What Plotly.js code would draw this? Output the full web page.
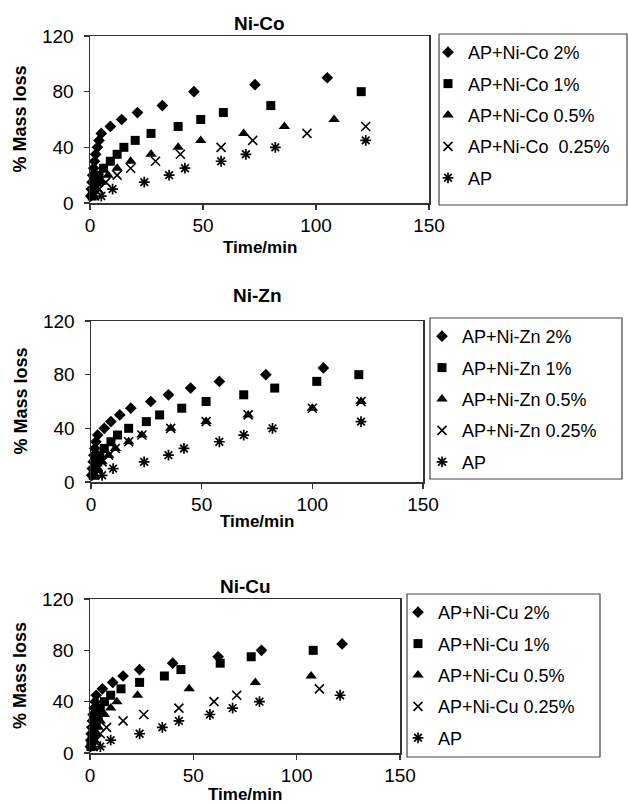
<!DOCTYPE html>
<html>
<head>
<meta charset="utf-8">
<script src="https://cdn.plot.ly/plotly-3.0.1.min.js"></script>
<style>html,body{margin:0;padding:0;background:#fff}#chart{width:628px;height:805px}</style>
</head>
<body>
<div id="chart"></div>
<script>
// ---- Data ----
const panelTitles = ["Ni-Co", "Ni-Zn", "Ni-Cu"];
const xTicks = [0, 50, 100, 150];
const yTicks = [0, 40, 80, 120];

// Ni-Co
const co2_x = [0.3, 0.6, 0.9, 1.2, 1.6, 2, 2.5, 3.3, 4, 5, 9, 14, 21, 32, 46, 73, 105];
const co2_y = [5, 10, 15, 20, 25, 30, 35, 40, 45, 50, 55, 60, 65, 70, 80, 85, 90];
const co1_x = [1, 2, 3, 4, 6, 9, 12, 15, 20, 27, 39, 49, 59, 80, 120];
const co1_y = [5, 10, 15, 20, 25, 30, 35, 40, 45, 50, 55, 60, 65, 70, 80];
const co05_x = [1.5, 3, 5, 8, 12, 18, 27, 39, 49, 68, 86, 108];
const co05_y = [5, 10, 15, 20, 25, 30, 35, 40, 45, 50, 55, 60];
const co025_x = [2, 4, 7, 12, 18, 29, 40, 58, 72, 96, 122];
const co025_y = [5, 10, 15, 20, 25, 30, 35, 40, 45, 50, 55];
const apCo_x = [5, 10, 24, 35, 42, 58, 69, 82, 122];
const apCo_y = [5, 10, 15, 20, 25, 30, 35, 40, 45];

// Ni-Zn
const zn2_x = [0.3, 0.6, 1, 1.3, 1.7, 2.2, 3, 6, 9, 13, 18, 27, 35, 45, 58, 79, 105];
const zn2_y = [5, 10, 15, 20, 25, 30, 35, 40, 45, 50, 55, 60, 65, 70, 75, 80, 85];
const zn1_x = [1, 2, 3, 4, 6, 9, 12, 17, 25, 31, 41, 52, 69, 83, 102, 121];
const zn1_y = [5, 10, 15, 20, 25, 30, 35, 40, 45, 50, 55, 60, 65, 70, 75, 80];
const zn05_x = [1.5, 3, 5, 8, 11, 17, 23, 36, 52, 71, 100, 122];
const zn05_y = [5, 10, 15, 20, 25, 30, 35, 40, 45, 50, 55, 60];
const zn025_x = [1.5, 3, 5, 8, 11, 17, 23, 36, 52, 71, 100, 122];
const zn025_y = [5, 10, 15, 20, 25, 30, 35, 40, 45, 50, 55, 60];
const apZn_x = [5, 10, 24, 35, 42, 58, 69, 82, 122];
const apZn_y = [5, 10, 15, 20, 25, 30, 35, 40, 45];

// Ni-Cu
const cu2_x = [0.2, 0.4, 0.6, 0.9, 1.2, 1.5, 2, 2.5, 3, 6, 11, 16, 24, 40, 62, 83, 122];
const cu2_y = [5, 10, 15, 20, 25, 30, 35, 40, 45, 50, 55, 60, 65, 70, 75, 80, 85];
const cu1_x = [0.5, 1, 1.5, 2, 3, 4, 5, 7, 10, 15, 24, 36, 44, 63, 78, 108];
const cu1_y = [5, 10, 15, 20, 25, 30, 35, 40, 45, 50, 55, 60, 65, 70, 75, 80];
const cu05_x = [1, 2, 3, 4, 5, 7, 10, 13, 23, 48, 80, 107];
const cu05_y = [5, 10, 15, 20, 25, 30, 35, 40, 45, 50, 55, 60];
const cu025_x = [1.5, 3, 5, 8, 16, 26, 43, 60, 71, 111];
const cu025_y = [5, 10, 15, 20, 25, 30, 35, 40, 45, 50];
const apCu_x = [5, 10, 24, 35, 43, 58, 69, 82, 121];
const apCu_y = [5, 10, 15, 20, 25, 30, 35, 40, 45];

const seriesNames = [
  ["AP+Ni-Co 2%", "AP+Ni-Co 1%", "AP+Ni-Co 0.5%", "AP+Ni-Co  0.25%", "AP"],
  ["AP+Ni-Zn 2%", "AP+Ni-Zn 1%", "AP+Ni-Zn 0.5%", "AP+Ni-Zn 0.25%", "AP"],
  ["AP+Ni-Cu 2%", "AP+Ni-Cu 1%", "AP+Ni-Cu 0.5%", "AP+Ni-Cu 0.25%", "AP"]
];
const panelData = [
  [[co2_x, co2_y], [co1_x, co1_y], [co05_x, co05_y], [co025_x, co025_y], [apCo_x, apCo_y]],
  [[zn2_x, zn2_y], [zn1_x, zn1_y], [zn05_x, zn05_y], [zn025_x, zn025_y], [apZn_x, apZn_y]],
  [[cu2_x, cu2_y], [cu1_x, cu1_y], [cu05_x, cu05_y], [cu025_x, cu025_y], [apCu_x, apCu_y]]
];

// ---- Styles / layout geometry ----
const W = 628, H = 805;
const FONT = "Liberation Sans, Arial, sans-serif";
const markerStyles = [
  {symbol: "diamond", size: 9, color: "#000"},
  {symbol: "square", size: 9, color: "#000"},
  {symbol: "triangle-up", size: 10, color: "#000"},
  {symbol: "x-thin-open", size: 9, color: "#000", line: {width: 1.6, color: "#000"}},
  {symbol: "asterisk-open", size: 9, color: "#000", line: {width: 1.7, color: "#000"}}
];
// plot boxes in px: [left, right, top, bottom]
const boxes = [[90, 429, 36, 203], [91, 423, 321, 482], [90, 400, 599, 753]];
// legend frames in px: [left, right, top, bottom]
const legendBoxes = [[439, 627, 34, 205], [430, 622, 318, 479], [407, 600, 594, 757]];
const legendAnchor = [[428, 34], [422, 318], [398, 594]];
const titleY = [23, 296, 586];
const xTitleY = [248, 521, 794];
const yTitleX = 20;

const traces = [];
const layout = {
  width: W, height: H,
  margin: {l: 0, r: 0, t: 0, b: 0},
  paper_bgcolor: "#fff", plot_bgcolor: "#fff",
  font: {family: FONT, color: "#000", size: 17},
  annotations: [],
  shapes: [],
  showlegend: true
};

panelData.forEach((panel, p) => {
  const sfx = p === 0 ? "" : String(p + 1);
  const legName = "legend" + sfx;
  panel.forEach((d, s) => {
    traces.push({
      type: "scatter", mode: "markers",
      x: d[0], y: d[1],
      name: seriesNames[p][s],
      xaxis: "x" + sfx, yaxis: "y" + sfx,
      legend: legName,
      legendgroup: "g" + p + "_" + s,
      marker: markerStyles[s],
      cliponaxis: false
    });
  });
  const b = boxes[p];
  const axCommon = {
    showline: true, mirror: true, linecolor: "#333", linewidth: 1.5,
    ticks: "outside", ticklen: 5, tickwidth: 1.2, tickcolor: "#333",
    showgrid: false, zeroline: false, automargin: false,
    tickfont: {family: FONT, size: 19, color: "#000"}
  };
  layout["xaxis" + sfx] = Object.assign({}, axCommon, {
    domain: [b[0] / W, b[1] / W],
    range: [0, 150], tickvals: xTicks,
    anchor: "y" + sfx
  });
  layout["yaxis" + sfx] = Object.assign({}, axCommon, {
    domain: [1 - b[3] / H, 1 - b[2] / H],
    range: [0, 120], tickvals: yTicks,
    anchor: "x" + sfx,
    ticklabelstandoff: 6
  });
  layout[legName] = {
    x: legendAnchor[p][0] / W, y: 1 - legendAnchor[p][1] / H,
    xanchor: "left", yanchor: "top",
    borderwidth: 0,
    bgcolor: "rgba(0,0,0,0)",
    font: {family: FONT, size: 18, color: "#000"},
    tracegroupgap: 5,
    itemwidth: 30
  };
  const lb = legendBoxes[p];
  layout.shapes.push({
    type: "rect", xref: "paper", yref: "paper",
    x0: lb[0] / W, x1: lb[1] / W, y0: 1 - lb[3] / H, y1: 1 - lb[2] / H,
    line: {color: "#444", width: 1.2}, fillcolor: "rgba(0,0,0,0)"
  });
  layout.annotations.push({
    text: "<b>" + panelTitles[p] + "</b>",
    xref: "paper", yref: "paper",
    x: ((b[0] + b[1]) / 2) / W, y: 1 - titleY[p] / H,
    xanchor: "center", yanchor: "middle", showarrow: false,
    font: {family: FONT, size: 19, color: "#000"}
  });
  layout.annotations.push({
    text: "<b>Time/min</b>",
    xref: "paper", yref: "paper",
    x: ((b[0] + b[1]) / 2) / W, y: 1 - xTitleY[p] / H,
    xanchor: "center", yanchor: "middle", showarrow: false,
    font: {family: FONT, size: 17, color: "#000"}
  });
  layout.annotations.push({
    text: "<b>% Mass loss</b>",
    xref: "paper", yref: "paper", textangle: -90,
    x: yTitleX / W, y: 1 - ((b[2] + b[3]) / 2) / H,
    xanchor: "center", yanchor: "middle", showarrow: false,
    font: {family: FONT, size: 18, color: "#000"}
  });
});

Plotly.newPlot("chart", traces, layout, {displayModeBar: false, staticPlot: true});
</script>
</body>
</html>
